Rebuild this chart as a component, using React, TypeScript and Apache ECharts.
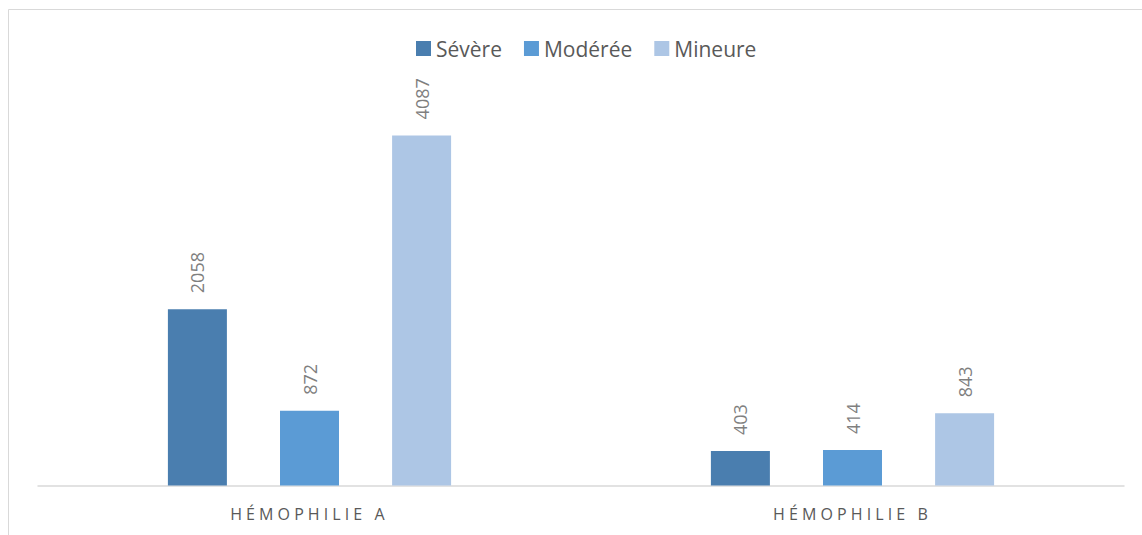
import React, { useEffect, useRef } from "react";
import * as echarts from "echarts";

const categories = ["HÉMOPHILIE A", "HÉMOPHILIE B"];
const seriesNames = ["Sévère", "Modérée", "Mineure"];
const severe = [2058, 403];
const moderate = [872, 414];
const minor = [4087, 843];
const colors = ["#4a7eaf", "#5b9bd5", "#adc6e5"];

export default function App() {
  const ref = useRef<HTMLDivElement>(null);
  useEffect(() => {
    document.body.style.margin = "0";
    if (!ref.current) return;
    const chart = echarts.init(ref.current, undefined, { renderer: "svg" });
    const values = [severe, moderate, minor];
    const font = "'Open Sans', 'Noto Sans', sans-serif";
    chart.setOption({
      animation: false,
      color: colors,
      legend: {
        data: seriesNames,
        left: 411,
        top: 33,
        itemWidth: 15,
        itemHeight: 15,
        itemGap: 22,
        icon: "rect",
        textStyle: { fontSize: 21, color: "#595959", fontFamily: font },
      },
      graphic: [
        {
          type: "rect",
          shape: { x: 8.5, y: 9.5, width: 1300, height: 700 },
          style: { fill: "none", stroke: "#d9d9d9", lineWidth: 1 },
          silent: true,
        },
      ],
      grid: { left: 38, right: 18, top: 100, bottom: 49.5 },
      xAxis: {
        type: "category",
        data: categories,
        axisLine: { show: true, lineStyle: { color: "#d9d9d9", width: 1.5 } },
        axisTick: { show: false },
        axisLabel: {
          fontSize: 16,
          color: "#595959",
          fontFamily: font,
          margin: 20,
        },
      },
      yAxis: {
        type: "value",
        min: 0,
        max: 4500,
        show: false,
        splitLine: { show: false },
      },
      series: seriesNames.map((name, i) => ({
        name,
        type: "bar",
        data: values[i],
        barWidth: 59,
        barGap: "90%",
        itemStyle: { color: colors[i] },
        label: {
          show: true,
          position: "top",
          rotate: 90,
          align: "left",
          verticalAlign: "middle",
          distance: 16,
          fontSize: 18,
          color: "#7f7f7f",
          fontFamily: font,
        },
      })),
    });
    const applySpacing = () => {
      if (!ref.current) return;
      ref.current.querySelectorAll("text").forEach((t) => {
        if (categories.includes((t.textContent || "").trim())) {
          t.setAttribute("letter-spacing", "4.1px");
          (t as any).style.letterSpacing = "4.1px";
        }
      });
    };
    applySpacing();
    chart.on("finished", applySpacing);
    return () => {
      chart.dispose();
    };
  }, []);
  return (
    <div
      ref={ref}
      style={{ width: 1142, height: 535, overflow: "hidden", background: "#fff" }}
    />
  );
}
